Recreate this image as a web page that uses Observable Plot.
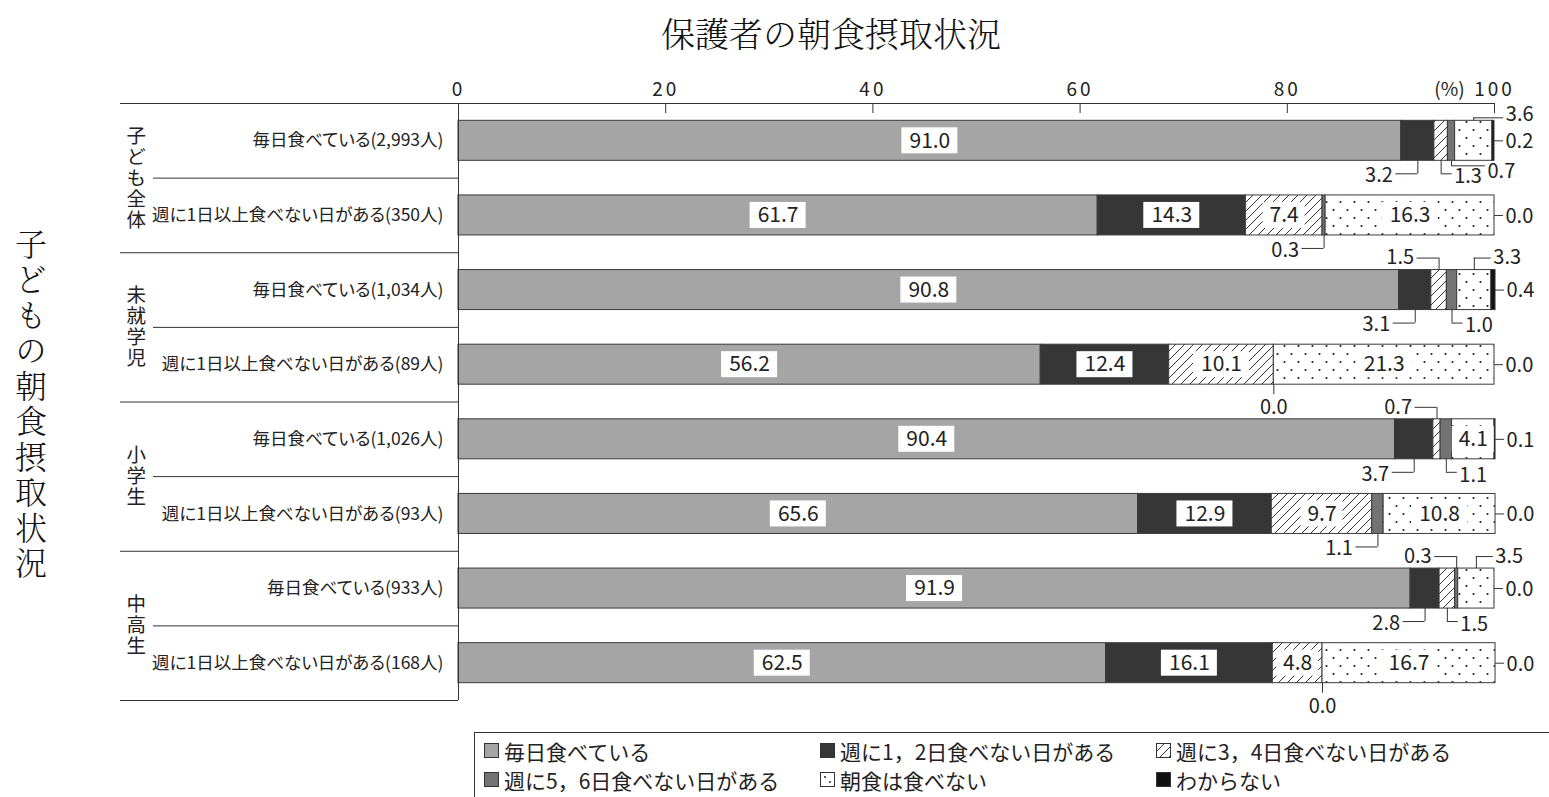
<!DOCTYPE html>
<html><head><meta charset="utf-8">
<script src="https://cdn.jsdelivr.net/npm/d3@7"></script>
<script src="https://cdn.jsdelivr.net/npm/@observablehq/plot@0.6"></script>
<style>
html,body{margin:0;padding:0;background:#fff}
body{width:1549px;height:797px;overflow:hidden;position:relative;font-family:"Noto Sans CJK JP",sans-serif;color:#222}
#title{position:absolute;left:831px;top:8px;transform:translateX(-50%);font-size:34px;white-space:nowrap;font-family:"Noto Serif CJK JP","Noto Sans CJK JP",serif;font-weight:300;color:#111}
#chart{position:absolute;left:0;top:62px}
.vlabel{position:absolute;writing-mode:vertical-rl;text-orientation:upright;white-space:nowrap;transform:translate(-50%,-50%);line-height:1}
#leftTitle{font-size:32px;letter-spacing:3.5px;font-weight:300;color:#111;font-family:"Noto Serif CJK JP","Noto Sans CJK JP",serif}
.group{font-size:19.5px;letter-spacing:1.5px;color:#222}
#legend{position:absolute;left:474px;top:732px;width:1090px;height:70px;border:1px solid #333;box-sizing:border-box;display:grid;grid-template-columns:336px 336px 336px;grid-auto-rows:27px;row-gap:2px;padding:4px 0 0 9px;font-size:21px}
#legend .item{display:flex;align-items:center;white-space:nowrap}
#legend svg{margin-right:5px;flex:none}
svg text{font-feature-settings:"palt"}
g[aria-label="x-axis tick label"] text{letter-spacing:3px}
</style></head>
<body>
<svg width="0" height="0" style="position:absolute">
<defs>
<pattern id="hatch" patternUnits="userSpaceOnUse" width="9" height="9">
<rect width="9" height="9" fill="#fff"/>
<path d="M-2,2 L2,-2 M0,9 L9,0 M7,11 L11,7" stroke="#333" stroke-width="1"/>
</pattern>
<pattern id="dots" patternUnits="userSpaceOnUse" width="14" height="16">
<rect width="14" height="16" fill="#fff"/>
<circle cx="3.5" cy="4" r="1.1" fill="#222"/>
<circle cx="10.5" cy="12" r="1.1" fill="#222"/>
</pattern>
<pattern id="dotsSw" patternUnits="userSpaceOnUse" width="15" height="15">
<rect width="15" height="15" fill="#fff"/>
<circle cx="5" cy="5" r="1" fill="#222"/>
<circle cx="10" cy="10" r="1" fill="#222"/>
</pattern>
</defs></svg>
<div id="title">保護者の朝食摂取状況</div>
<div id="chart"></div>
<div id="legend"></div>
<script>
// ---- data ----
const groups = ["子ども全体", "未就学児", "小学生", "中高生"];
const groupFirstRow = [0, 2, 4, 6];
const rowLabels = [
  "毎日食べている(2,993人)",
  "週に1日以上食べない日がある(350人)",
  "毎日食べている(1,034人)",
  "週に1日以上食べない日がある(89人)",
  "毎日食べている(1,026人)",
  "週に1日以上食べない日がある(93人)",
  "毎日食べている(933人)",
  "週に1日以上食べない日がある(168人)"
];
const cats = [
  "毎日食べている",
  "週に1，2日食べない日がある",
  "週に3，4日食べない日がある",
  "週に5，6日食べない日がある",
  "朝食は食べない",
  "わからない"
];
const daily   = [91.0, 61.7, 90.8, 56.2, 90.4, 65.6, 91.9, 62.5];
const w12     = [3.2, 14.3, 3.1, 12.4, 3.7, 12.9, 2.8, 16.1];
const w34     = [1.3, 7.4, 1.5, 10.1, 0.7, 9.7, 1.5, 4.8];
const w56     = [0.7, 0.3, 1.0, 0.0, 1.1, 1.1, 0.3, 0.0];
const noBreak = [3.6, 16.3, 3.3, 21.3, 4.1, 10.8, 3.5, 16.7];
const unknown = [0.2, 0.0, 0.4, 0.0, 0.1, 0.0, 0.0, 0.0];
const xTicks = [0, 20, 40, 60, 80, 100];
const leftTitle = "子どもの朝食摂取状況";
const unitLabel = "(%)";

// callout placement per row (category index -> side)
const calloutSide = [
  {1: "dl", 2: "dr", 3: "dr2", 4: "ur2", 5: "r"},
  {3: "dl", 5: "r"},
  {1: "dl", 2: "ul", 3: "dr", 4: "ur", 5: "r"},
  {3: "d", 5: "r"},
  {1: "dl", 2: "ul", 3: "dr", 5: "r"},
  {3: "dl", 5: "r"},
  {1: "dl", 2: "dr", 3: "ul", 4: "ur", 5: "r"},
  {3: "d", 5: "r"}
];

// ---- styles ----
const fills = ["#a5a5a5", "#363636", "url(#hatch)", "#737373", "url(#dots)", "#111"];
const swatchFills = ["#a5a5a5", "#363636", "url(#hatch)", "#737373", "url(#dotsSw)", "#111"];
const series = [daily, w12, w34, w56, noBreak, unknown];

const W = 1549, MT = 41, MB = 25, ML = 458, MR = 55;
const FH = 597; // frame height
const HGT = MT + FH + MB;
const B = FH / rowLabels.length, H = B / 2;
const PW = W - ML - MR;
const ink = "#222", line = "#333";
const CF = 20; // callout font size

const segs = [];
rowLabels.forEach((row, r) => {
  let s = 0;
  cats.forEach((cat, c) => {
    const v = series[c][r];
    segs.push({row, r, c, cat, value: v, x1: s, x2: s + v, mid: s + v / 2});
    s += v;
  });
});
const fmt = d => d.value.toFixed(1);
const inside = segs.filter(d => d.value >= 4);
const callouts = segs.filter(d => calloutSide[d.r][d.c]).map(d => ({...d, side: calloutSide[d.r][d.c]}));

const P = {
  dl:  {vy: [20, 33],  hx: [-22, 0], hy: 33,  tx: -25, ty: 35,  anchor: "end"},
  dr:  {vy: [20, 33],  hx: [0, 11],  hy: 33,  tx: 13,  ty: 36,  anchor: "start"},
  dr2: {vy: [20, 25],  hx: [0, 34],  hy: 25,  tx: 36,  ty: 31,  anchor: "start"},
  ul:  {vy: [-32, -20], hx: [-22, 0], hy: -32, tx: -25, ty: -32, anchor: "end"},
  ur:  {vy: [-32, -20], hx: [0, 17],  hy: -32, tx: 19,  ty: -32, anchor: "start"},
  ur2: {vy: [-23, -20], hx: [0, 30],  hy: -23, tx: 32,  ty: -26, anchor: "start"},
  d:   {vy: [20, 30],  hx: null,     tx: 0,   ty: 43,  anchor: "middle"}
};

const calloutMarks = [];
for (const [side, p] of Object.entries(P)) {
  const list = callouts.filter(d => d.side === side);
  if (!list.length) continue;
  calloutMarks.push(Plot.tickX(list, {x: "mid", y: "row", insetTop: H + p.vy[0], insetBottom: H - p.vy[1], stroke: line, strokeWidth: 1}));
  if (p.hx) calloutMarks.push(Plot.ruleY(list, {x1: "mid", x2: "mid", y: "row", dy: p.hy, insetLeft: p.hx[0], insetRight: -p.hx[1], stroke: line, strokeWidth: 1}));
  calloutMarks.push(Plot.text(list, {x: "mid", y: "row", text: fmt, dx: p.tx, dy: p.ty, textAnchor: p.anchor, fontSize: CF, fill: ink}));
}
const rightList = callouts.filter(d => d.side === "r");
calloutMarks.push(Plot.ruleY(rightList, {x1: "x2", x2: "x2", y: "row", insetRight: -9, stroke: line}));
calloutMarks.push(Plot.text(rightList, {x: "x2", y: "row", text: fmt, dx: 11, dy: 1, textAnchor: "start", fontSize: CF, fill: ink}));

const tableLeft = 120, shortLeft = 153;
const chart = Plot.plot({
  width: W, height: HGT, marginTop: MT, marginBottom: MB, marginLeft: ML, marginRight: MR,
  x: {domain: [0, 100]},
  y: {domain: rowLabels, padding: 0, round: false, axis: null},
  color: {type: "ordinal", domain: cats, range: fills},
  style: {fontFamily: '"Noto Sans CJK JP", sans-serif', color: ink, background: "white", overflow: "visible"},
  marks: [
    Plot.barX(segs, {x1: "x1", x2: "x2", y: "row", fill: "cat", stroke: "#3a3a3a", strokeWidth: 1, insetTop: H - 20, insetBottom: H - 20}),
    Plot.barX(inside.filter(d => fmt(d).length > 3), {x1: "mid", x2: "mid", y: "row", fill: "white", insetLeft: -28, insetRight: -28, insetTop: H - 13, insetBottom: H - 13}),
    Plot.barX(inside.filter(d => fmt(d).length <= 3), {x1: "mid", x2: "mid", y: "row", fill: "white", insetLeft: -21, insetRight: -21, insetTop: H - 13, insetBottom: H - 13}),
    Plot.text(inside, {x: "mid", y: "row", text: fmt, fontSize: 21, fill: ink}),
    ...calloutMarks,
    // table lines
    Plot.ruleY([rowLabels[0]], {y: d => d, dy: -H, insetLeft: -(ML - tableLeft), stroke: line}),
    Plot.ruleY(groupFirstRow.slice(1).map(i => rowLabels[i]), {y: d => d, dy: -H, insetLeft: -(ML - tableLeft), insetRight: PW, stroke: line}),
    Plot.ruleY([rowLabels[rowLabels.length - 1]], {y: d => d, dy: H, insetLeft: -(ML - tableLeft), insetRight: PW, stroke: line}),
    Plot.ruleY(groupFirstRow.map(i => rowLabels[i + 1]), {y: d => d, dy: -H, insetLeft: -(ML - shortLeft), insetRight: PW, stroke: line}),
    Plot.ruleX([0], {stroke: line}),
    Plot.tickX(xTicks.slice(1), {x: d => d, y: () => rowLabels[0], insetTop: 0, insetBottom: B - 10, stroke: line}),
    Plot.axisX({anchor: "top", ticks: xTicks, tickSize: 0, tickPadding: 8, fontSize: 19, label: null, fill: ink}),
    Plot.text([unitLabel], {x: 100, text: d => d, frameAnchor: "top", dx: -45, dy: -8, lineAnchor: "bottom", fontSize: 19, fill: ink}),
    // row labels
    Plot.text(rowLabels, {y: d => d, text: d => d, frameAnchor: "left", dx: -15, textAnchor: "end", fontSize: 17.5, fill: ink})
  ]
});
const chartDiv = document.getElementById("chart");
chartDiv.append(chart);

// vertical labels positioned through the plot's y scale
const yS = chart.scale("y");
const top0 = 62;
groups.forEach((g, i) => {
  const yc = top0 + yS.apply(rowLabels[groupFirstRow[i]]) + yS.bandwidth;
  const el = document.createElement("div");
  el.className = "vlabel group";
  el.textContent = g;
  el.style.left = "136px";
  el.style.top = yc + "px";
  document.body.append(el);
});
{
  const yc = top0 + (yS.apply(rowLabels[0]) + yS.apply(rowLabels[rowLabels.length - 1]) + yS.bandwidth) / 2;
  const el = document.createElement("div");
  el.className = "vlabel";
  el.id = "leftTitle";
  el.textContent = leftTitle;
  el.style.left = "31px";
  el.style.top = (yc + 3) + "px";
  document.body.append(el);
}

// legend
const legend = d3.select("#legend");
cats.forEach((c, i) => {
  const it = legend.append("div").attr("class", "item");
  const sw = it.append("svg").attr("width", 15).attr("height", 15);
  sw.append("rect").attr("x", 0.5).attr("y", 0.5).attr("width", 14).attr("height", 14)
    .attr("fill", swatchFills[i]).attr("stroke", line).attr("stroke-width", 1);
  it.append("span").text(c);
});
</script>
</body></html>
